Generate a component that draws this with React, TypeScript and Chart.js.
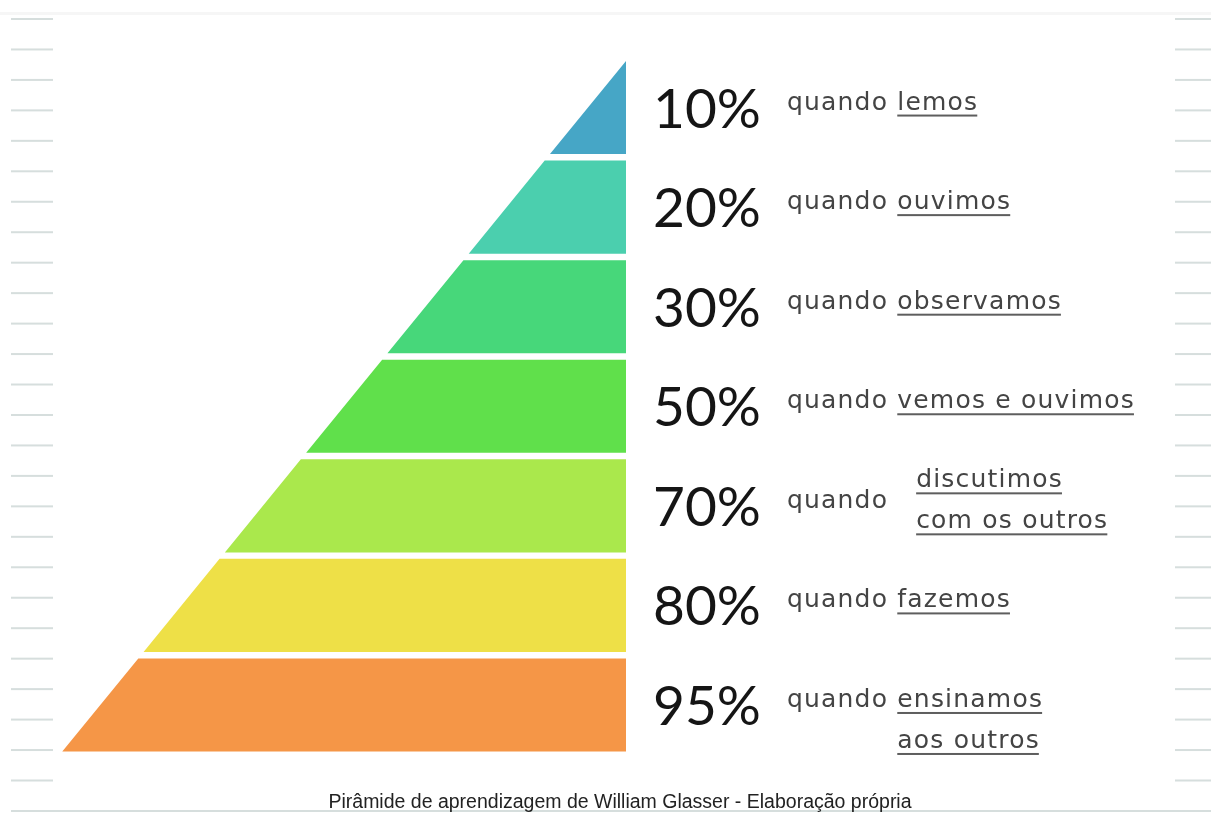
import React, { useEffect, useRef } from "react";
import { Chart, registerables } from "chart.js";

Chart.register(...registerables);

// ---- data ----
const percentages = ["10%", "20%", "30%", "50%", "70%", "80%", "95%"];
const prefixes = ["quando", "quando", "quando", "quando", "quando", "quando", "quando"];
const actions: string[][] = [
  ["lemos"],
  ["ouvimos"],
  ["observamos"],
  ["vemos e ouvimos"],
  ["discutimos", "com os outros"],
  ["fazemos"],
  ["ensinamos", "aos outros"],
];
const prefixAlign = ["first", "first", "first", "first", "middle", "first", "first"];
const bandColors = ["#46a6c6", "#4bcfae", "#47d77a", "#60e04b", "#aae84c", "#eee047", "#f59647"];
const caption = "Pirâmide de aprendizagem de William Glasser - Elaboração própria";

const levels = percentages.length;
const gapFraction = 0.065; // white gap between bands, as a share of one level

function bandPolygon(i: number) {
  const top = i / levels;
  const bottom = (i + 1 - gapFraction) / levels;
  // half pyramid: the right edge is vertical (x = 1), the left edge is x = 1 - y
  return [
    { x: 1 - top, y: top },
    { x: 1, y: top },
    { x: 1, y: bottom },
    { x: 1 - bottom, y: bottom },
    { x: 1 - top, y: top },
  ];
}

const W = 1211;
const H = 831;

const backgroundPlugin = {
  id: "notebookBackground",
  beforeDraw(chart: any) {
    const ctx = chart.ctx;
    ctx.save();
    ctx.fillStyle = "#ffffff";
    ctx.fillRect(0, 0, W, H);
    ctx.fillStyle = "#f6f6f6";
    ctx.fillRect(0, 12, W, 3);
    ctx.fillStyle = "#d6dedd";
    for (let k = 0; k < 26; k++) {
      const y = 19 + k * 30.46;
      ctx.fillRect(11, y - 1, 42, 2);
      ctx.fillRect(1175, y - 1, 36, 2);
    }
    ctx.fillRect(11, 810, W - 11, 2);
    ctx.restore();
  },
};

const labelPlugin = {
  id: "pyramidLabels",
  afterDraw(chart: any) {
    const ctx = chart.ctx;
    const xs = chart.scales.x;
    const ys = chart.scales.y;
    const rightPx = xs.getPixelForValue(1);
    ctx.save();
    ctx.textBaseline = "alphabetic";
    ctx.textAlign = "left";
    for (let i = 0; i < levels; i++) {
      const top = i / levels;
      const bottom = (i + 1 - gapFraction) / levels;
      const cy = ys.getPixelForValue((top + bottom) / 2);
      const px = rightPx + 27;
      ctx.letterSpacing = "0px";
      ctx.font = '400 55px Lato';
      ctx.fillStyle = "#151515";
      ctx.fillText(percentages[i], px, cy + 20);
      const pw = ctx.measureText(percentages[i]).width;

      ctx.font = '400 25px "DejaVu Sans"';
      ctx.letterSpacing = "1.2px";
      ctx.fillStyle = "#444444";
      const qx = px + pw + 26;
      const base = cy + 2;
      const lines = actions[i];
      const lineGap = 41;
      ctx.fillText(prefixes[i], qx, base);
      const qw = ctx.measureText(prefixes[i]).width;
      const sw = ctx.measureText(" ").width;
      let ax: number;
      let firstBase: number;
      if (lines.length > 1 && prefixAlign[i] === "middle") {
        ax = qx + qw + 28;
        firstBase = base - ((lines.length - 1) * lineGap) / 2;
      } else {
        ax = qx + qw + sw;
        firstBase = base;
      }
      lines.forEach((ln, j) => {
        const b = firstBase + j * lineGap;
        ctx.fillStyle = "#444444";
        ctx.fillText(ln, ax, b);
        const lw = ctx.measureText(ln).width - 1;
        ctx.fillStyle = "#5e5e5e";
        ctx.fillRect(ax, b + 5, lw, 2);
      });
    }
    ctx.letterSpacing = "0px";
    ctx.font = '19.5px "Liberation Sans", Arial, sans-serif';
    ctx.fillStyle = "#222222";
    ctx.textAlign = "center";
    ctx.textBaseline = "middle";
    ctx.fillText(caption, 620, 803);
    ctx.restore();
  },
};

export default function App() {
  const ref = useRef<HTMLCanvasElement | null>(null);
  useEffect(() => {
    if (!ref.current) return;
    const chart = new Chart(ref.current, {
      type: "scatter",
      data: {
        datasets: percentages.map((p, i) => ({
          label: p,
          data: bandPolygon(i),
          showLine: true,
          fill: "shape",
          backgroundColor: bandColors[i],
          borderColor: bandColors[i],
          borderWidth: 0,
          pointRadius: 0,
          pointHoverRadius: 0,
          tension: 0,
        })),
      },
      options: {
        responsive: false,
        animation: false,
        devicePixelRatio: 1,
        layout: { padding: { left: 57, right: W - 626, top: 61, bottom: H - 758 } },
        scales: {
          x: { type: "linear", min: 0, max: 1, display: false },
          y: { type: "linear", min: 0, max: 1, reverse: true, display: false },
        },
        plugins: {
          legend: { display: false },
          tooltip: { enabled: false },
          title: { display: false },
        },
        events: [],
      } as any,
      plugins: [backgroundPlugin, labelPlugin],
    });
    return () => chart.destroy();
  }, []);
  return (
    <div style={{ position: "absolute", left: 0, top: 0, width: W, height: H, background: "#fff" }}>
      <canvas ref={ref} width={W} height={H} style={{ display: "block" }} />
    </div>
  );
}
